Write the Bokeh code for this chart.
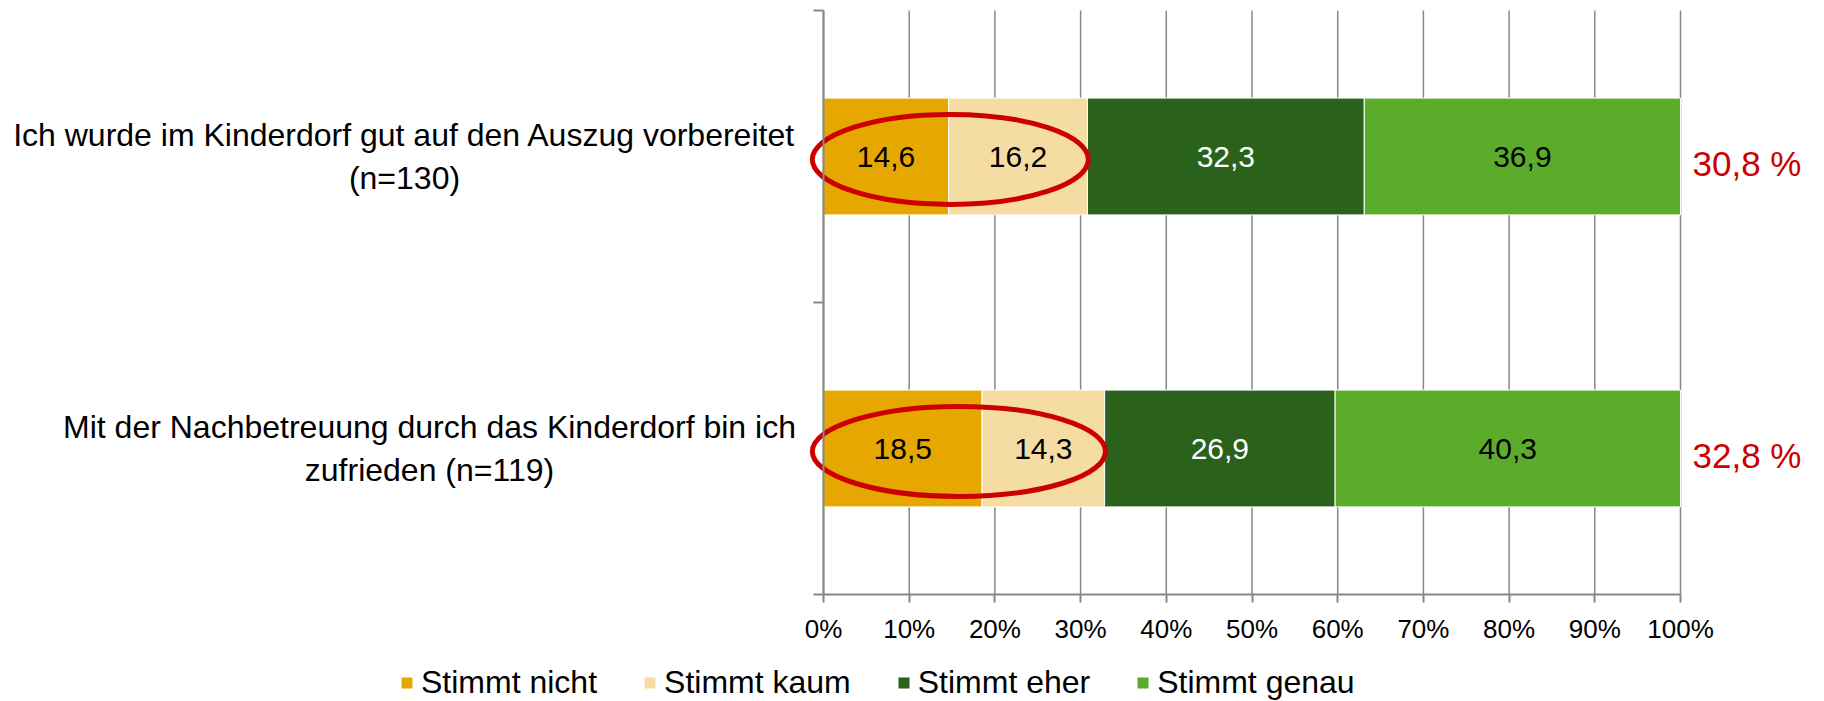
from bokeh.plotting import figure
from bokeh.models import (Range1d, FixedTicker, Label, Legend, LegendItem, ColumnDataSource)
from bokeh.core.properties import value
from bokeh.embed import file_html
from bokeh.resources import INLINE

# ---------------- data ----------------
categories = [
    "Ich wurde im Kinderdorf gut auf den Auszug vorbereitet\n(n=130)",
    "Mit der Nachbetreuung durch das Kinderdorf bin ich\nzufrieden (n=119)",
]
series = ["Stimmt nicht", "Stimmt kaum", "Stimmt eher", "Stimmt genau"]
stimmt_nicht = [14.6, 18.5]
stimmt_kaum = [16.2, 14.3]
stimmt_eher = [32.3, 26.9]
stimmt_genau = [36.9, 40.3]
highlight_totals = [30.8, 32.8]
x_ticks = [0, 10, 20, 30, 40, 50, 60, 70, 80, 90, 100]
x_tick_labels = ["0%", "10%", "20%", "30%", "40%", "50%", "60%", "70%", "80%", "90%", "100%"]

# ---------------- layout / styles ----------------
W, H = 1824, 701
AX_LEFT, AX_RIGHT = 823, 1680     # pixel position of 0% and 100%
AX_TOP, AX_BOTTOM = 10, 594       # pixel position of top/bottom of category axis
FONT = "Liberation Sans"
colors = ["#E6A800", "#F5DCA2", "#2A611B", "#5AAC2A"]
label_colors = ["black", "black", "white", "black"]
GRID = "#888888"
RED = "#CC0000"

n = len(categories)
px_x = (AX_RIGHT - AX_LEFT) / 100.0
px_y = (AX_BOTTOM - AX_TOP) / float(n)
x_start, x_end = -AX_LEFT / px_x, 100 + (W - AX_RIGHT) / px_x
y_start, y_end = -(H - AX_BOTTOM) / px_y, n + AX_TOP / px_y

values = [stimmt_nicht, stimmt_kaum, stimmt_eher, stimmt_genau]
ypos = [n - i - 0.5 for i in range(n)]

p = figure(width=W, height=H, x_range=Range1d(x_start, x_end), y_range=Range1d(y_start, y_end),
           output_backend="svg", toolbar_location=None,
           min_border_left=0, min_border_right=0, min_border_top=0, min_border_bottom=0)
p.outline_line_color = None
p.background_fill_color = "white"
p.border_fill_color = "white"
p.xgrid.visible = False
p.ygrid.visible = False

# vertical gridlines (at tick positions, spanning the category axis)
p.segment(x0=x_ticks, x1=x_ticks, y0=[0] * len(x_ticks), y1=[n] * len(x_ticks),
          line_color=GRID, line_width=1.5)

xa = p.xaxis[0]
xa.fixed_location = 0
xa.ticker = FixedTicker(ticks=x_ticks)
xa.bounds = (0, 100)
xa.major_label_overrides = {t: l for t, l in zip(x_ticks, x_tick_labels)}
xa.axis_line_color = GRID
xa.axis_line_width = 2
xa.major_tick_line_color = GRID
xa.major_tick_line_width = 2
xa.major_tick_out = 8
xa.major_tick_in = 0
xa.minor_tick_line_color = None
xa.major_label_text_font = FONT
xa.major_label_text_font_size = "26px"
xa.major_label_text_color = "black"
xa.major_label_standoff = 11

ya = p.yaxis[0]
ya.fixed_location = 0
ya.bounds = (0, n)
ya.ticker = FixedTicker(ticks=list(range(n + 1)))
ya.major_label_overrides = {k: "" for k in range(n + 1)}
ya.axis_line_color = GRID
ya.axis_line_width = 2
ya.major_tick_line_color = GRID
ya.major_tick_line_width = 2
ya.major_tick_out = 10
ya.major_tick_in = 0
ya.minor_tick_line_color = None
ya.major_label_text_font_size = "0px"

# ---------------- bars ----------------
left = [0.0] * n
renderers = []
for j, (name, vals) in enumerate(zip(series, values)):
    right = [l + v for l, v in zip(left, vals)]
    src = ColumnDataSource(dict(y=ypos, left=left, right=right))
    r = p.hbar(y="y", left="left", right="right", height=0.4, source=src,
               fill_color=colors[j], line_color="white", line_width=1)
    renderers.append(r)
    left = right

# ---------------- highlight ellipses ----------------
sums = [a + b for a, b in zip(stimmt_nicht, stimmt_kaum)]
esrc = ColumnDataSource(dict(x=[s / 2 - 0.6 for s in sums],
                             y=[y - 0.01 for y in ypos],
                             w=[s + 1.4 for s in sums]))
p.ellipse(x="x", y="y", width="w", height=90, height_units="screen", source=esrc,
          fill_alpha=0, line_color=RED, line_width=5)

# ---------------- segment value labels ----------------
left = [0.0] * n
for j, vals in enumerate(values):
    right = [l + v for l, v in zip(left, vals)]
    src = ColumnDataSource(dict(y=ypos, mid=[(l + r) / 2 for l, r in zip(left, right)],
                                txt=[f"{v:.1f}".replace(".", ",") for v in vals]))
    p.text(x="mid", y="y", text="txt", source=src, text_align="center",
           text_baseline="middle", text_font=value(FONT), text_font_size="30px",
           text_color=label_colors[j])
    left = right

# ---------------- right-side totals ----------------
for i in range(n):
    p.add_layout(Label(x=100, y=ypos[i], x_offset=12, y_offset=-7,
                       text=f"{highlight_totals[i]:.1f}".replace(".", ",") + " %",
                       text_align="left", text_baseline="middle",
                       text_font=FONT, text_font_size="35px", text_color=RED))

# ---------------- category labels ----------------
cat_offsets = [-419, -394]
for i in range(n):
    p.add_layout(Label(x=0, y=ypos[i], x_offset=cat_offsets[i], y_offset=0,
                       text=categories[i], text_align="center", text_baseline="middle",
                       text_font=FONT, text_font_size="32px", text_color="black"))

# ---------------- legend ----------------
legend = Legend(items=[LegendItem(label=s, renderers=[r]) for s, r in zip(series, renderers)],
                orientation="horizontal", location=(399, 0))
legend.glyph_width = 15
legend.glyph_height = 15
legend.label_standoff = 7
legend.spacing = 45
legend.padding = 0
legend.margin = 0
legend.border_line_color = None
legend.background_fill_alpha = 0
legend.label_text_font = FONT
legend.label_text_font_size = "32px"
legend.label_text_color = "black"
p.add_layout(legend)

open("out.html", "w").write(file_html(p, INLINE))
